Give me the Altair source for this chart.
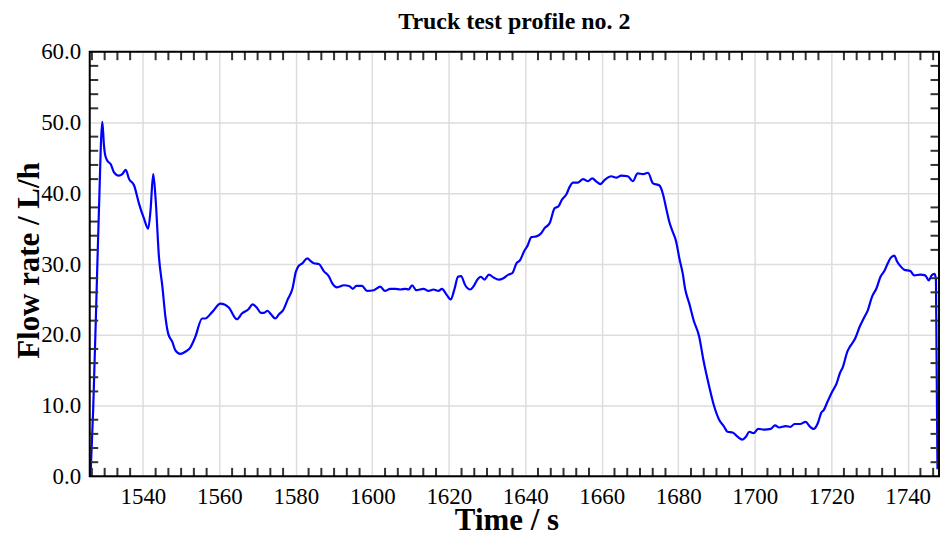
import altair as alt
import pandas as pd

# ---- data ----
chart_title = ["Truck test profile no. 2"]

time_s = [
    1526.3, 1527.0, 1528.1, 1528.5, 1529.4, 1529.8, 1530.1, 1530.7, 1531.6, 1532.4,
    1533.7, 1534.6, 1535.5, 1536.4, 1537.7, 1539.0, 1540.3, 1541.4, 1542.0, 1542.7,
    1543.3, 1544.2, 1545.1, 1545.9, 1546.6, 1547.7, 1548.5, 1549.8, 1551.1, 1552.4,
    1553.7, 1555.5, 1556.3, 1558.1, 1560.3, 1562.4, 1564.6, 1565.9, 1567.6, 1568.7,
    1569.7, 1570.9, 1571.7, 1572.6, 1573.5, 1574.6, 1575.6, 1576.7, 1577.8, 1579.1,
    1580.0, 1580.7, 1581.7, 1583.0, 1583.9, 1584.7, 1586.0, 1587.3, 1588.7, 1589.5,
    1590.8, 1592.6, 1593.9, 1594.9, 1595.8, 1597.3, 1598.6, 1600.4, 1602.1, 1603.3,
    1604.7, 1606.0, 1607.3, 1608.7, 1609.5, 1610.4, 1611.5, 1613.4, 1614.7, 1616.0,
    1617.3, 1618.2, 1619.5, 1620.5, 1621.5, 1622.4, 1623.2, 1624.3, 1625.6, 1626.4,
    1627.6, 1628.4, 1629.3, 1630.5, 1631.7, 1633.0, 1634.3, 1635.6, 1636.6, 1637.7,
    1638.6, 1639.7, 1640.6, 1641.6, 1642.9, 1644.1, 1645.1, 1646.4, 1647.7, 1648.6,
    1649.6, 1650.8, 1651.6, 1652.5, 1653.8, 1655.1, 1656.4, 1657.5, 1658.7, 1659.6,
    1660.8, 1662.5, 1663.8, 1665.1, 1666.8, 1668.1, 1669.4, 1670.8, 1672.1, 1673.4,
    1675.1, 1676.0, 1676.8, 1677.7, 1678.6, 1679.4, 1680.3, 1681.2, 1681.8, 1682.9,
    1684.0, 1685.5, 1686.6, 1688.1, 1689.4, 1690.7, 1691.9, 1692.9, 1694.2, 1695.5,
    1696.8, 1697.7, 1698.6, 1699.7, 1700.9, 1702.5, 1704.2, 1705.3, 1706.4, 1708.1,
    1709.4, 1710.4, 1711.9, 1713.3, 1714.5, 1715.4, 1716.5, 1717.4, 1718.1, 1719.0,
    1720.3, 1721.4, 1722.3, 1723.1, 1724.2, 1725.0, 1726.3, 1727.5, 1728.5, 1729.6,
    1730.7, 1731.8, 1732.9, 1733.9, 1734.8, 1735.6, 1736.5, 1737.2, 1738.1, 1739.1,
    1740.7, 1741.7, 1743.3, 1744.6, 1745.5, 1746.3, 1747.0, 1747.4, 1747.8,
]
flow_lh = [
    0.0, 9.4, 30.1, 37.5, 50.1, 46.9, 45.5, 44.6, 44.1, 43.0,
    42.5, 42.7, 43.3, 42.0, 41.1, 38.5, 36.4, 35.0, 37.6, 42.7,
    39.4, 31.0, 26.8, 22.5, 20.2, 19.0, 17.8, 17.3, 17.6, 18.2,
    19.7, 22.3, 22.3, 23.2, 24.4, 23.9, 22.2, 23.0, 23.6, 24.3,
    23.9, 23.1, 23.1, 23.4, 22.9, 22.3, 22.9, 23.5, 24.9, 26.5,
    28.9, 29.7, 30.1, 30.8, 30.4, 30.1, 30.0, 29.0, 28.2, 27.3,
    26.7, 27.0, 26.9, 26.5, 26.9, 26.9, 26.2, 26.3, 26.8, 26.2,
    26.5, 26.5, 26.4, 26.5, 26.4, 27.0, 26.3, 26.5, 26.2, 26.4,
    26.2, 26.5, 25.6, 25.0, 26.5, 28.2, 28.3, 27.0, 26.4, 26.8,
    27.9, 28.2, 27.8, 28.5, 28.1, 27.8, 28.0, 28.5, 28.7, 30.1,
    30.5, 31.8, 32.6, 33.8, 33.9, 34.3, 35.1, 35.8, 37.9, 38.1,
    39.1, 39.9, 40.9, 41.5, 41.5, 42.0, 41.7, 42.1, 41.6, 41.3,
    41.9, 42.4, 42.2, 42.5, 42.4, 41.7, 42.8, 42.7, 42.9, 41.4,
    41.1, 39.9, 38.0, 35.9, 34.5, 33.3, 30.8, 28.6, 26.5, 24.4,
    22.1, 19.7, 16.4, 12.7, 9.9, 8.0, 7.1, 6.3, 6.2, 5.6,
    5.2, 5.6, 6.3, 6.1, 6.7, 6.6, 6.7, 7.2, 6.9, 7.1,
    7.0, 7.4, 7.4, 7.7, 7.0, 6.7, 7.5, 9.0, 9.4, 10.5,
    12.0, 13.1, 14.6, 15.5, 17.6, 18.4, 19.5, 21.2, 22.3, 23.5,
    25.4, 26.5, 28.2, 29.0, 30.1, 30.9, 31.2, 30.4, 29.7, 29.2,
    29.0, 28.4, 28.5, 28.4, 27.7, 28.4, 28.6, 27.9, 1.0,
]

x_major = [1540, 1560, 1580, 1600, 1620, 1640, 1660, 1680, 1700, 1720, 1740]
y_major = [0, 10, 20, 30, 40, 50, 60]

X_MIN, X_MAX = 1526.1, 1748.2
W, H = 852, 426
TICK = 8.5

x_minor = [round(1520 + i * 20 / 6, 3) for i in range(1, 6 * 12)
           if i % 6 and X_MIN + 0.5 < 1520 + i * 20 / 6 < X_MAX]
y_minor = [v for v in range(2, 60, 2) if v % 10]

df = pd.DataFrame({"t": time_s, "f": flow_lh})
xs = alt.Scale(domain=[X_MIN, X_MAX], nice=False, zero=False)
ys = alt.Scale(domain=[0, 60], nice=False, zero=False)

FONT = "Liberation Serif"

x_axis = alt.Axis(
    values=x_major, format="d", title="Time / s", grid=True,
    labelPadding=9, titleY=53, titleBaseline="alphabetic",
    titleAlign="center", titleX=W / 2 - 8)
y_axis = alt.Axis(
    values=y_major, format=".1f", title="Flow rate / L/h", grid=True,
    labelPadding=9, titleX=-60, titleY=H / 2 - 4, titleAngle=270,
    titleAlign="center", titleBaseline="middle")

line = alt.Chart(df).mark_line(
    color="#0000ff", strokeWidth=2.2, interpolate="monotone", clip=True
).encode(
    x=alt.X("t:Q", scale=xs, axis=x_axis),
    y=alt.Y("f:Q", scale=ys, axis=y_axis),
)

tick_style = dict(color="#333333", strokeWidth=2)
xdf = pd.DataFrame({"t": x_minor})
ydf = pd.DataFrame({"f": y_minor})

bottom_ticks = alt.Chart(xdf).mark_rule(**tick_style).encode(
    x=alt.X("t:Q", scale=xs, axis=x_axis), y=alt.value(H), y2=alt.value(H - TICK))
top_ticks = alt.Chart(xdf).mark_rule(**tick_style).encode(
    x=alt.X("t:Q", scale=xs, axis=x_axis), y=alt.value(0), y2=alt.value(TICK))
left_ticks = alt.Chart(ydf).mark_rule(**tick_style).encode(
    y=alt.Y("f:Q", scale=ys, axis=y_axis), x=alt.value(0), x2=alt.value(TICK))
right_ticks = alt.Chart(ydf).mark_rule(**tick_style).encode(
    y=alt.Y("f:Q", scale=ys, axis=y_axis), x=alt.value(W - TICK), x2=alt.value(W))

frame = alt.Chart(pd.DataFrame({"a": [0]})).mark_rect(
    filled=False, stroke="black", strokeWidth=2
).encode(x=alt.value(0), x2=alt.value(W), y=alt.value(0), y2=alt.value(H))

title_mark = alt.Chart(pd.DataFrame({"label": chart_title})).mark_text(
    font=FONT, fontSize=24, fontWeight="bold", color="black",
    align="center", baseline="alphabetic"
).encode(x=alt.value(W / 2), y=alt.value(-23), text="label:N")

chart = alt.layer(
    line, bottom_ticks, top_ticks, left_ticks, right_ticks, frame, title_mark
).properties(
    width=W, height=H,
    autosize=alt.AutoSizeParams(type="none"),
    padding={"left": 82, "top": 43, "right": 2, "bottom": 60},
).configure_axis(
    domain=False, ticks=False, tickSize=0,
    gridColor="#dddddd", gridWidth=1.5,
    labelFont=FONT, labelFontSize=23, labelColor="black",
    titleFont=FONT, titleFontSize=31, titleFontWeight="bold", titleColor="black",
).configure_view(stroke=None)

chart.save("out.html", embed_options={"renderer": "svg", "actions": False})
